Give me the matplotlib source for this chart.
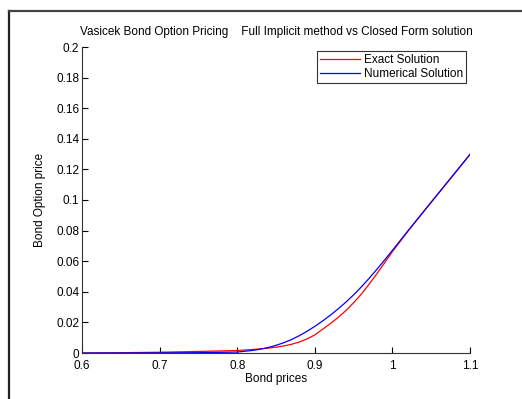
import numpy as np
import matplotlib.pyplot as plt
from matplotlib.lines import Line2D
from matplotlib.ticker import FuncFormatter

plt.rcParams['font.family'] = ['Liberation Sans', 'DejaVu Sans']

# bond prices and option values (closed form vs full implicit scheme)
bond_prices = [0.6, 0.65, 0.7, 0.75, 0.8, 0.82, 0.83, 0.84, 0.85, 0.86, 0.87, 0.88,
               0.89, 0.9, 0.91, 0.92, 0.93, 0.94, 0.95, 0.96, 0.97, 0.98, 0.99,
               1.0, 1.02, 1.04, 1.06, 1.08, 1.1]
exact = [0.0, 0.0002, 0.0005, 0.001, 0.0016, 0.0023, 0.0027, 0.0032, 0.0038, 0.0046,
         0.0057, 0.0072, 0.0092, 0.0118, 0.0155, 0.0192, 0.0232, 0.0277, 0.0328,
         0.0385, 0.0450, 0.0518, 0.0590, 0.0662, 0.0796, 0.0923, 0.1048, 0.1173, 0.1298]
numerical = [0.0, 0.0, 0.0001, 0.0002, 0.0006, 0.0017, 0.0025, 0.0036, 0.0050, 0.0067,
             0.0088, 0.0113, 0.0142, 0.0174, 0.0209, 0.0247, 0.0288, 0.0332, 0.0380,
             0.0432, 0.0488, 0.0547, 0.0608, 0.0671, 0.0798, 0.0923, 0.1048, 0.1173, 0.1298]

fig = plt.figure(figsize=(5.22, 3.99), dpi=100)
ax = fig.add_axes([82/522, 46/399, 388/522, 306/399])

ax.plot(bond_prices, exact, color='red', lw=0.9, label='Exact Solution')
ax.plot(bond_prices, numerical, color='blue', lw=0.9, label='Numerical Solution')

ax.set_xlim(0.6, 1.1)
ax.set_ylim(0, 0.2)
ax.set_xticks(np.arange(0.6, 1.101, 0.1))
ax.set_yticks(np.arange(0, 0.2001, 0.02))
ax.xaxis.set_major_formatter(FuncFormatter(lambda v, p: f'{round(v, 2):g}'))
ax.yaxis.set_major_formatter(FuncFormatter(lambda v, p: f'{round(v, 2):g}'))
ax.tick_params(direction='in', length=4, width=0.8, labelsize=8.5)
ax.tick_params(axis='x', pad=5)
ax.tick_params(axis='y', pad=2)
for side in ['top', 'right']:
    ax.spines[side].set_visible(False)
for side in ['left', 'bottom']:
    ax.spines[side].set_linewidth(0.8)
    ax.spines[side].set_color('#333333')

ax.set_title('Vasicek Bond Option Pricing    Full Implicit method vs Closed Form solution',
             fontsize=8.5, pad=9)
ax.set_xlabel('Bond prices', fontsize=8.5, labelpad=1)
ax.set_ylabel('Bond Option price', fontsize=8.5, labelpad=7)

leg = ax.legend(loc='upper right', bbox_to_anchor=(1.0, 1.0), fontsize=8.5,
                frameon=True, fancybox=False, handlelength=3.4,
                borderpad=0.3, labelspacing=0.15, handletextpad=0.3,
                borderaxespad=0.3)
leg.get_frame().set_edgecolor('black')
leg.get_frame().set_linewidth(0.8)

# window frame along left and top edges
fig.add_artist(Line2D([8.5/522, 8.5/522], [0, 1 - 11/399], color='#222222', lw=1.6))
fig.add_artist(Line2D([8.5/522, 1], [1 - 11/399, 1 - 11/399], color='#444444', lw=1.6))

fig.savefig('out.png', dpi=100)
